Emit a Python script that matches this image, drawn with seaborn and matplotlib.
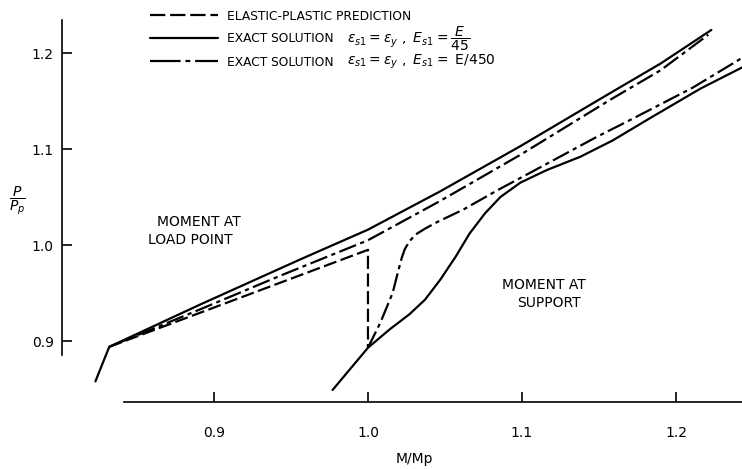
import matplotlib
matplotlib.use("Agg")
import matplotlib.pyplot as plt
import seaborn as sns
import pandas as pd
from matplotlib.lines import Line2D

# ---- curves: M/Mp (x) against P/Pp (y) ----
# moment at load point, exact solution, E_s1 = E/45 (solid)
lp45_m = [0.823, 0.832, 0.891, 0.956, 1.000, 1.047, 1.099, 1.157, 1.190, 1.223]
lp45_p = [0.858, 0.894, 0.938, 0.985, 1.016, 1.056, 1.103, 1.158, 1.189, 1.224]

# moment at load point, exact solution, E_s1 = E/450 (dash-dot)
lp450_m = [0.832, 0.891, 0.943, 1.000, 1.047, 1.099, 1.157, 1.190, 1.221]
lp450_p = [0.894, 0.933, 0.968, 1.005, 1.046, 1.094, 1.151, 1.182, 1.219]

# elastic-plastic prediction (dashed): load point branch, then support branch at Mp
ep_m = [0.832, 1.000, 1.000]
ep_p = [0.894, 0.995, 0.893]

# moment at support, exact solution, E_s1 = E/45 (solid)
sp45_m = [0.977, 1.000, 1.014, 1.027, 1.037, 1.047, 1.057, 1.066, 1.076, 1.086,
          1.099, 1.116, 1.138, 1.159, 1.183, 1.216, 1.243]
sp45_p = [0.849, 0.893, 0.912, 0.928, 0.943, 0.964, 0.988, 1.012, 1.033, 1.050,
          1.065, 1.078, 1.092, 1.109, 1.132, 1.163, 1.185]

# moment at support, exact solution, E_s1 = E/450 (dash-dot)
sp450_m = [1.000, 1.008, 1.016, 1.020, 1.022, 1.024, 1.027, 1.031, 1.037, 1.045,
           1.062, 1.084, 1.105, 1.127, 1.149, 1.170, 1.211, 1.242]
sp450_p = [0.893, 0.919, 0.950, 0.975, 0.987, 0.996, 1.004, 1.011, 1.017, 1.024,
           1.037, 1.057, 1.075, 1.094, 1.113, 1.130, 1.164, 1.194]

x_ticks = [0.9, 1.0, 1.1, 1.2]
x_tick_labels = ["0.9", "1.0", "1.1", "1.2"]
y_ticks = [0.9, 1.0, 1.1, 1.2]
y_tick_labels = ["0.9", "1.0", "1.1", "1.2"]

legend_texts = ["ELASTIC-PLASTIC PREDICTION", "EXACT SOLUTION", "EXACT SOLUTION"]
legend_math = ["", r"$\epsilon_{s1} = \epsilon_y\ ,\ E_{s1} = \dfrac{E}{45}$",
               r"$\epsilon_{s1} = \epsilon_y\ ,\ E_{s1} = $ E/450"]

sns.set_theme(style="white")
plt.rcParams["font.family"] = ["DejaVu Sans"]
plt.rcParams["mathtext.fontset"] = "dejavusans"
plt.rcParams["lines.scale_dashes"] = False
plt.rcParams["text.color"] = "black"

W, H = 742, 469
fig = plt.figure(figsize=(W / 100, H / 100), dpi=100)
fig.patch.set_facecolor("white")


def fx(px):
    return px / W


def fy(py):
    return 1 - py / H


ax = fig.add_axes([fx(62), fy(402), (742 - 62) / W, (402 - 10) / H])
ax.set_facecolor("white")
ax.set_xlim(0.8013, 1.2429)
ax.set_ylim(0.8365, 1.2448)

LW = 1.6
DASH = (0, (9.5, 3.2))
DASHDOT = (0, (13, 3.2, 3, 3.2))

curves = [
    (lp45_m, lp45_p, "-"),
    (lp450_m, lp450_p, DASHDOT),
    (ep_m, ep_p, DASH),
    (sp45_m, sp45_p, "-"),
    (sp450_m, sp450_p, DASHDOT),
]
for m, p, ls in curves:
    df = pd.DataFrame({"M": m, "P": p})
    sns.lineplot(data=df, x="M", y="P", sort=False, estimator=None, ax=ax,
                 color="black", linewidth=LW, linestyle=ls)

for side in ("top", "right"):
    ax.spines[side].set_visible(False)
for side in ("left", "bottom"):
    ax.spines[side].set_color("black")
    ax.spines[side].set_linewidth(1.2)
ax.spines["left"].set_bounds(0.885, 1.234)
ax.spines["bottom"].set_bounds(0.8416, 1.2429)

ax.set_xticks(x_ticks)
ax.set_xticklabels(x_tick_labels)
ax.set_yticks(y_ticks)
ax.set_yticklabels(y_tick_labels)
ax.tick_params(axis="x", direction="in", length=7, width=1.2, pad=17,
               labelsize=10, colors="black", bottom=True)
ax.tick_params(axis="y", direction="in", length=7, width=1.2, pad=6,
               labelsize=10, colors="black", left=True)
ax.set_xlabel("")
ax.set_ylabel("")
ax.grid(False)

# axis titles
fig.text(fx(17), fy(201), r"$\dfrac{P}{P_p}$", fontsize=10, ha="center", va="center")
fig.text(fx(414), fy(459), "M/Mp", fontsize=10, ha="center", va="center")

# region annotations
fig.text(fx(157), fy(222), "MOMENT AT", fontsize=10, ha="left", va="center")
fig.text(fx(148), fy(240), "LOAD POINT", fontsize=10, ha="left", va="center")
fig.text(fx(502), fy(285), "MOMENT AT", fontsize=10, ha="left", va="center")
fig.text(fx(517), fy(303), "SUPPORT", fontsize=10, ha="left", va="center")

# key
key_styles = [(0, (11, 3.5)), "-", (0, (22, 3.5, 3.5, 3.5))]
key_rows = [15, 38, 61]
for ls, row, txt, mth in zip(key_styles, key_rows, legend_texts, legend_math):
    fig.add_artist(Line2D([fx(150), fx(218)], [fy(row), fy(row)],
                          transform=fig.transFigure, color="black",
                          linewidth=LW, linestyle=ls))
    fig.text(fx(227), fy(row + 1), txt, fontsize=8.8, ha="left", va="center")
    if mth:
        fig.text(fx(347), fy(row + 1), mth, fontsize=10, ha="left", va="center")

fig.savefig("out.png", dpi=100, facecolor="white")
